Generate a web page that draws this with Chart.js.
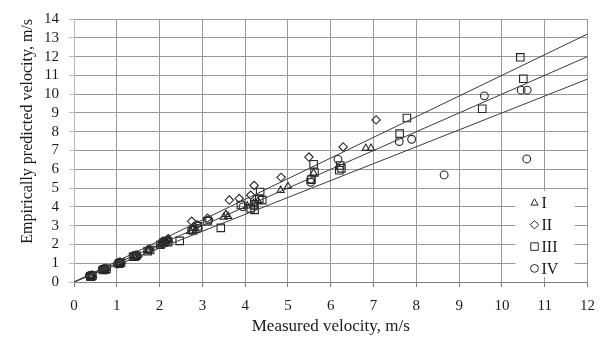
<!DOCTYPE html>
<html><head><meta charset="utf-8">
<script src="https://cdn.jsdelivr.net/npm/chart.js@4/dist/chart.umd.min.js"></script>
<style>html,body{margin:0;padding:0;background:#fff}canvas{display:block}</style>
</head><body>
<canvas id="c" width="605" height="342"></canvas>
<script>
// ---- data ----
const seriesNames = ['I', 'II', 'III', 'IV'];
const seriesStyles = ['triangle', 'rectRot', 'rect', 'circle'];
const seriesI = [[0.38,0.3],[0.4,0.33],[0.44,0.36],[0.66,0.63],[0.68,0.66],[0.72,0.7],[0.76,0.72],[1.02,0.98],[1.04,1.0],[1.08,1.05],[1.4,1.36],[1.42,1.38],[1.48,1.42],[1.72,1.66],[1.74,1.7],[2.0,1.96],[2.04,2.0],[2.12,2.08],[2.18,2.22],[2.22,2.26],[2.72,2.7],[2.78,2.85],[2.85,2.75],[3.5,3.45],[3.55,3.6],[3.6,3.5],[4.05,4.05],[4.2,4.2],[4.3,4.3],[4.83,4.88],[5.0,5.09],[5.6,5.8],[6.82,7.12],[6.94,7.12]];
const seriesII = [[0.4,0.36],[0.42,0.3],[0.7,0.7],[0.74,0.66],[1.06,1.05],[1.1,1.0],[1.45,1.44],[1.5,1.38],[1.76,1.76],[2.08,2.15],[2.14,2.1],[2.2,2.3],[2.75,3.23],[2.8,2.95],[2.88,3.05],[3.12,3.4],[3.63,4.36],[3.86,4.44],[4.13,4.62],[4.21,5.14],[4.84,5.57],[5.49,6.65],[6.29,7.19],[7.06,8.63]];
const seriesIII = [[0.38,0.3],[0.43,0.34],[0.4,0.28],[0.68,0.64],[0.72,0.66],[0.76,0.7],[1.05,0.98],[1.1,1.04],[1.07,1.0],[1.38,1.34],[1.46,1.4],[1.42,1.36],[1.72,1.64],[1.78,1.7],[2.02,1.98],[2.1,2.1],[2.2,2.12],[2.14,2.18],[2.47,2.19],[2.78,2.75],[2.89,2.97],[3.12,3.23],[3.43,2.88],[3.9,4.1],[4.13,3.92],[4.21,4.13],[4.22,3.84],[4.33,4.44],[4.4,4.36],[4.35,4.79],[5.6,6.27],[5.62,5.83],[5.55,5.45],[6.22,6.2],[6.25,6.05],[6.2,5.95],[7.61,7.9],[7.78,8.73],[9.54,9.22],[10.43,11.96],[10.5,10.82]];
const seriesIV = [[0.4,0.32],[0.36,0.34],[0.7,0.67],[0.66,0.68],[1.05,1.02],[1.02,0.96],[1.45,1.38],[1.4,1.4],[1.75,1.72],[2.08,2.05],[2.15,2.2],[2.06,2.12],[2.75,2.8],[2.9,2.85],[3.15,3.3],[3.95,4.0],[4.2,4.05],[5.53,5.48],[5.53,5.31],[6.17,6.53],[7.6,7.48],[7.89,7.6],[8.65,5.7],[9.59,9.91],[10.45,10.21],[10.59,10.21],[10.58,6.55]];
const lineSlopes = [1.1, 1.0, 0.9];
const xRange = [0, 12];
const yRange = [0, 14];
const xTitle = 'Measured velocity, m/s';
const yTitle = 'Empirically predicted velocity, m/s';

const allSeries = [seriesI, seriesII, seriesIII, seriesIV];
const radii = { triangle: 4.2, rectRot: 4.2, rect: 5.3, circle: 3.9 };
const INK = '#262626';

const lineDatasets = lineSlopes.map(k => ({
  type: 'line',
  label: 'k=' + k,
  data: [{x: xRange[0], y: xRange[0] * k}, {x: xRange[1], y: xRange[1] * k}],
  borderColor: '#3a3a3a',
  borderWidth: 1,
  pointRadius: 0,
  fill: false,
  order: 0
}));
const pointDatasets = allSeries.map((s, i) => ({
  type: 'scatter',
  label: seriesNames[i],
  data: s.map(p => ({x: p[0], y: p[1]})),
  pointStyle: seriesStyles[i],
  pointRadius: radii[seriesStyles[i]],
  borderColor: INK,
  backgroundColor: 'rgba(255,255,255,0)',
  borderWidth: 1.1,
  order: 1
}));

function marker(ctx, style, r, x, y) {
  ctx.beginPath();
  if (style === 'circle') ctx.arc(x, y, r, 0, Math.PI * 2);
  else if (style === 'rect') { const s = r * Math.SQRT1_2; ctx.rect(x - s, y - s, 2 * s, 2 * s); }
  else if (style === 'rectRot') { ctx.moveTo(x - r, y); ctx.lineTo(x, y - r); ctx.lineTo(x + r, y); ctx.lineTo(x, y + r); ctx.closePath(); }
  else if (style === 'triangle') {
    let a = 0; ctx.moveTo(x + Math.sin(a) * r, y - Math.cos(a) * r);
    a += 2 * Math.PI / 3; ctx.lineTo(x + Math.sin(a) * r, y - Math.cos(a) * r);
    a += 2 * Math.PI / 3; ctx.lineTo(x + Math.sin(a) * r, y - Math.cos(a) * r);
    ctx.closePath();
  }
  ctx.stroke();
}

const insideLegend = {
  id: 'insideLegend',
  afterDatasetsDraw(chart) {
    const {ctx, chartArea: a} = chart;
    ctx.save();
    ctx.fillStyle = '#fff';
    ctx.fillRect(a.right - 72, a.bottom - 91, 59, 86);
    ctx.strokeStyle = INK; ctx.lineWidth = 1;
    ctx.font = '16px "Liberation Serif", "Times New Roman", serif';
    ctx.textBaseline = 'middle'; ctx.textAlign = 'left';
    seriesNames.forEach((n, i) => {
      const y = a.bottom - 79 + i * 21.8;
      marker(ctx, seriesStyles[i], radii[seriesStyles[i]], a.right - 53, y);
      ctx.fillStyle = '#1a1a1a';
      ctx.fillText(n, a.right - 46, y + 1);
    });
    ctx.restore();
  }
};

const tickFont = { family: '"Liberation Serif", "Times New Roman", serif', size: 15 };
const titleFont = { family: '"Liberation Serif", "Times New Roman", serif', size: 16 };
const xTitleFont = { family: '"Liberation Serif", "Times New Roman", serif', size: 17 };

new Chart(document.getElementById('c'), {
  type: 'scatter',
  data: { datasets: [...lineDatasets, ...pointDatasets] },
  options: {
    responsive: false,
    animation: false,
    layout: { padding: { top: 13, right: 15, left: 0, bottom: 0 } },
    plugins: { legend: { display: false }, tooltip: { enabled: false } },
    scales: {
      x: {
        type: 'linear', min: xRange[0], max: xRange[1],
        ticks: { stepSize: 1, autoSkip: false, color: '#1a1a1a', font: tickFont, padding: 10, maxRotation: 0 },
        grid: { color: '#9a9a9a', lineWidth: 1, tickLength: 5, tickColor: '#808080' },
        border: { color: '#808080', width: 1 },
        title: { display: true, text: xTitle, color: '#1a1a1a', font: xTitleFont, padding: { top: 0, bottom: 5 } },
        afterFit(s) { s.height = 60; }
      },
      y: {
        type: 'linear', min: yRange[0], max: yRange[1],
        ticks: { stepSize: 1, autoSkip: false, color: '#1a1a1a', font: tickFont, padding: 10 },
        grid: { color: '#9a9a9a', lineWidth: 1, tickLength: 5, tickColor: '#b8b8b8' },
        border: { color: '#b8b8b8', width: 1 },
        title: { display: true, text: yTitle, color: '#1a1a1a', font: titleFont, align: 'end', padding: { top: 18, bottom: 0 } },
        afterFit(s) { s.width = 74; }
      }
    }
  },
  plugins: [insideLegend]
});
</script>
</body></html>
